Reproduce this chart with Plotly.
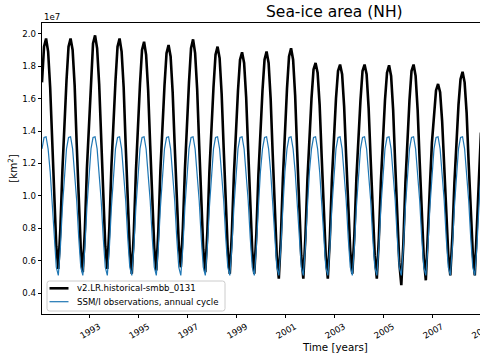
import plotly.graph_objects as go

# ---- data (units of 1e7 km^2) ----
years = list(range(1991, 2009))

model_monthly = {
    1991: [1.70, 1.92, 1.97, 1.89, 1.67, 1.33, 0.98, 0.69, 0.55, 0.80, 1.16, 1.45],
    1992: [1.71, 1.92, 1.97, 1.90, 1.68, 1.32, 0.96, 0.67, 0.53, 0.79, 1.17, 1.46],
    1993: [1.72, 1.94, 1.99, 1.91, 1.69, 1.34, 0.99, 0.69, 0.55, 0.81, 1.18, 1.47],
    1994: [1.71, 1.92, 1.97, 1.89, 1.67, 1.31, 0.95, 0.66, 0.52, 0.78, 1.15, 1.45],
    1995: [1.69, 1.90, 1.95, 1.87, 1.65, 1.31, 0.97, 0.68, 0.54, 0.79, 1.16, 1.44],
    1996: [1.68, 1.88, 1.93, 1.86, 1.64, 1.31, 0.98, 0.70, 0.56, 0.80, 1.16, 1.45],
    1997: [1.70, 1.91, 1.965, 1.88, 1.66, 1.31, 0.96, 0.67, 0.53, 0.78, 1.15, 1.43],
    1998: [1.67, 1.87, 1.92, 1.85, 1.63, 1.29, 0.94, 0.66, 0.52, 0.77, 1.13, 1.42],
    1999: [1.65, 1.84, 1.885, 1.82, 1.61, 1.28, 0.94, 0.66, 0.52, 0.77, 1.13, 1.42],
    2000: [1.65, 1.84, 1.89, 1.82, 1.60, 1.26, 0.91, 0.63, 0.49, 0.74, 1.11, 1.42],
    2001: [1.66, 1.86, 1.91, 1.84, 1.62, 1.27, 0.91, 0.63, 0.49, 0.74, 1.10, 1.39],
    2002: [1.60, 1.78, 1.82, 1.76, 1.56, 1.24, 0.90, 0.63, 0.49, 0.74, 1.10, 1.39],
    2003: [1.60, 1.77, 1.81, 1.75, 1.55, 1.24, 0.92, 0.66, 0.52, 0.76, 1.11, 1.39],
    2004: [1.59, 1.77, 1.81, 1.75, 1.54, 1.22, 0.90, 0.63, 0.49, 0.74, 1.09, 1.38],
    2005: [1.59, 1.76, 1.805, 1.74, 1.53, 1.20, 0.86, 0.59, 0.45, 0.71, 1.08, 1.38],
    2006: [1.59, 1.77, 1.81, 1.74, 1.53, 1.21, 0.88, 0.62, 0.48, 0.73, 1.06, 1.33],
    2007: [1.50, 1.65, 1.69, 1.64, 1.46, 1.17, 0.87, 0.64, 0.51, 0.75, 1.08, 1.37],
    2008: [1.56, 1.72, 1.765, 1.70, 1.51, 1.20, 0.89, 0.65, 0.51, 0.76, 1.10, 1.39],
}

# SSM/I observed climatological annual cycle (Jan..Dec)
obs_cycle = [1.29, 1.36, 1.365, 1.29, 1.15, 0.97, 0.74, 0.56, 0.51, 0.68, 0.93, 1.15]

series_names = ["v2.LR.historical-smbb_0131", "SSM/I observations, annual cycle"]
series_colors = ["black", "#1f77b4"]
series_widths = [2.6, 1.2]

x_tickvals = [1993, 1995, 1997, 1999, 2001, 2003, 2005, 2007]
y_tickvals = [0.4, 0.6, 0.8, 1.0, 1.2, 1.4, 1.6, 1.8, 2.0]

# ---- build series ----
t, model, obs = [], [], []
for y in years:
    for m in range(12):
        t.append(y + (m + 0.5) / 12.0)
        model.append(model_monthly[y][m])
        obs.append(obs_cycle[m])

FONT = "DejaVu Sans"
L, R, T, B = 42, 0, 23, 46
W, H = 480, 360
PW, PH = W - L - R, H - T - B


def px(xp):
    return (xp - L) / PW


def py(yp):
    return (H - B - yp) / PH


fig = go.Figure()
for yv, nm, col, wd in zip([model, obs], series_names, series_colors, series_widths):
    fig.add_trace(go.Scatter(x=t, y=yv, mode="lines", name=nm, showlegend=False,
                             hoverinfo="skip", line=dict(color=col, width=wd)))

fig.update_layout(
    width=W, height=H,
    margin=dict(l=L, r=R, t=T, b=B, autoexpand=False),
    paper_bgcolor="white", plot_bgcolor="white",
    font=dict(family=FONT, size=8.6, color="black"),
    xaxis=dict(range=[1991.042, 2008.92], tickvals=x_tickvals, automargin=False,
               ticktext=[str(v) for v in x_tickvals], tickangle=-30, ticklabelshift=9,
               showgrid=False, zeroline=False, showline=True, linecolor="black",
               linewidth=0.8, mirror=True, ticks="outside", ticklen=3.5, tickwidth=0.8,
               tickcolor="black", tickfont=dict(size=8.6)),
    yaxis=dict(range=[0.272, 2.066], tickvals=y_tickvals, tickformat=".1f", automargin=False,
               showgrid=False, zeroline=False, showline=True, linecolor="black",
               linewidth=0.8, mirror=False, ticks="outside", ticklen=3.5, tickwidth=0.8,
               tickcolor="black", tickfont=dict(size=8.6),
               title=dict(text="[km<sup>2</sup>]", font=dict(size=10.3), standoff=2)),
)

# title and axis texts
fig.add_annotation(text="Sea-ice area (NH)", xref="paper", yref="paper",
                   x=px(334), y=py(12), xanchor="center", yanchor="middle",
                   showarrow=False, font=dict(size=15.5, family=FONT))
fig.add_annotation(text="1e7", xref="paper", yref="paper", x=0, y=py(17),
                   xanchor="left", yanchor="middle", showarrow=False, font=dict(size=8.6, family=FONT))
fig.add_annotation(text="Time [years]", xref="paper", yref="paper",
                   x=px(335), y=py(347), xanchor="center", yanchor="middle",
                   showarrow=False, font=dict(size=10.3, family=FONT))
fig.add_annotation(text="2009", xref="paper", yref="paper", x=px(482), y=py(331),
                   xanchor="center", yanchor="middle", textangle=-30, showarrow=False,
                   font=dict(size=8.6, family=FONT))

# legend (box, sample lines, labels)
bx0, bx1, by0, by1, r = 47, 225, 281, 311, 2.5
path = (f"M {px(bx0 + r)} {py(by0)} L {px(bx1 - r)} {py(by0)} "
        f"Q {px(bx1)} {py(by0)} {px(bx1)} {py(by0 + r)} L {px(bx1)} {py(by1 - r)} "
        f"Q {px(bx1)} {py(by1)} {px(bx1 - r)} {py(by1)} L {px(bx0 + r)} {py(by1)} "
        f"Q {px(bx0)} {py(by1)} {px(bx0)} {py(by1 - r)} L {px(bx0)} {py(by0 + r)} "
        f"Q {px(bx0)} {py(by0)} {px(bx0 + r)} {py(by0)} Z")
fig.add_shape(type="path", path=path, xref="paper", yref="paper",
              fillcolor="rgba(255,255,255,0.8)", line=dict(color="#cccccc", width=1), layer="above")
for i, (nm, col, wd) in enumerate(zip(series_names, series_colors, series_widths)):
    yy = 288.3 + i * 13.4
    fig.add_shape(type="line", xref="paper", yref="paper", x0=px(49.5), x1=px(68.5),
                  y0=py(yy), y1=py(yy), line=dict(color=col, width=wd), layer="above")
    fig.add_annotation(text=nm, xref="paper", yref="paper", x=px(75), y=py(yy),
                       xanchor="left", yanchor="middle", showarrow=False,
                       font=dict(size=8.6, family=FONT))

fig.write_html("out.html", config={"displayModeBar": False},
               post_script="document.body.style.margin='0px';")
